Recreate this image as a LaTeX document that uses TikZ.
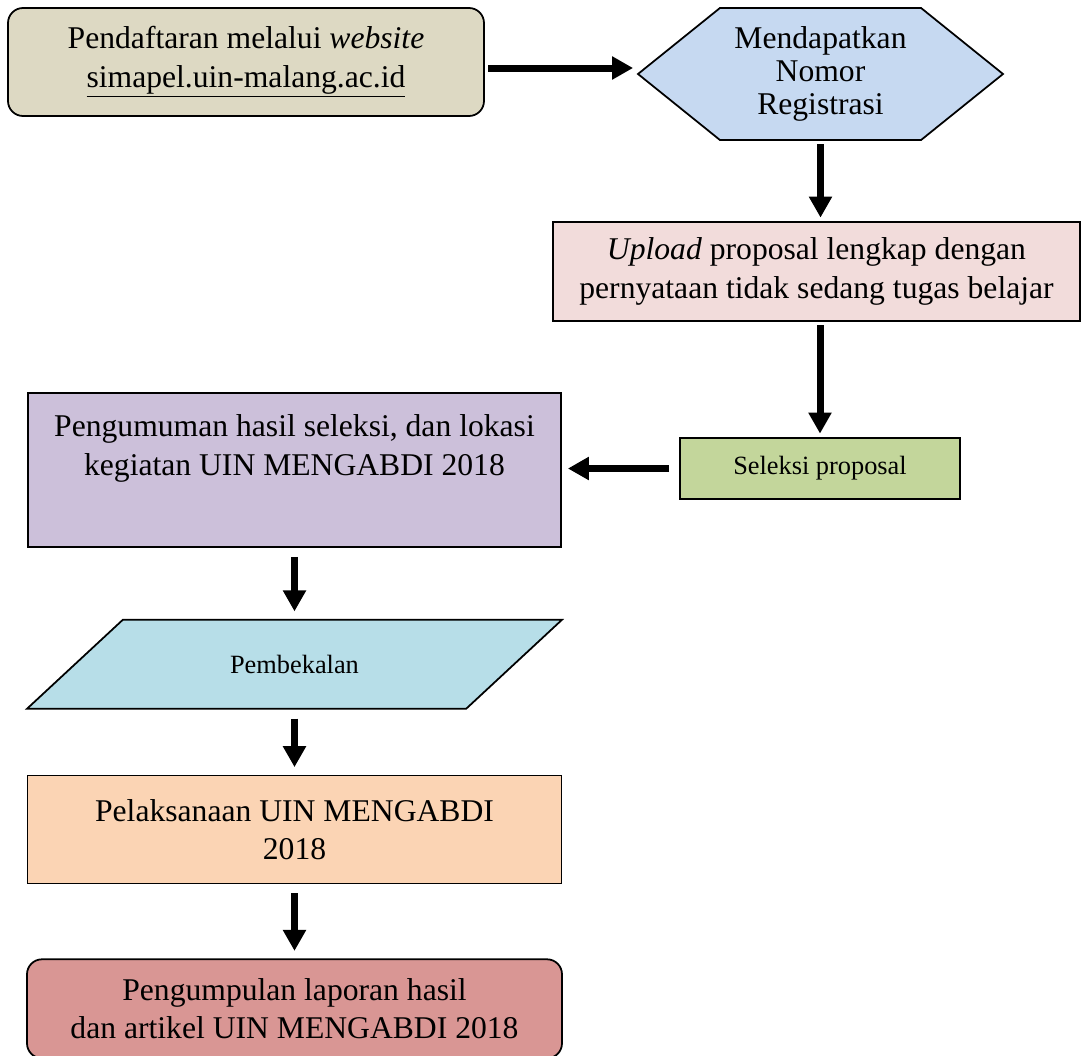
\documentclass[tikz,border=0pt]{standalone}
\usepackage{fontspec}
\setmainfont{Liberation Serif}
\usetikzlibrary{arrows.meta,positioning,shapes.geometric,shapes.symbols}

\definecolor{regcol}{HTML}{DDD9C3}
\definecolor{nomorcol}{HTML}{C6D9F1}
\definecolor{uploadcol}{HTML}{F2DCDB}
\definecolor{seleksicol}{HTML}{C3D69B}
\definecolor{umumcol}{HTML}{CCC0DA}
\definecolor{bekalcol}{HTML}{B7DEE8}
\definecolor{laksanacol}{HTML}{FBD4B4}
\definecolor{kumpulcol}{HTML}{D99694}

\begin{document}
\begin{tikzpicture}[>={Triangle[length=0.42cm,width=0.44cm]},
                    line width=1pt,node distance=1.4cm]
  \tikzstyle{box}=[draw, align=center, inner sep=2pt,
                   font=\fontsize{18}{22}\selectfont]
  \tikzstyle{small}=[font=\fontsize{15}{18}\selectfont]
  \tikzstyle{flow}=[->, line width=0.14cm, shorten <=2pt, shorten >=2pt]

  \useasboundingbox (0,0) rectangle (21.62,-21.1);

  \node[box, rounded corners=0.3cm, fill=regcol,
        minimum width=9.52cm, minimum height=2.16cm] (reg) at (4.92,-1.24)
        {Pendaftaran melalui \emph{website}\\ \underline{simapel.uin-malang.ac.id}};
  \node[box, signal, signal to=west and east, signal pointer angle=77.7,
        fill=nomorcol, font=\fontsize{18}{19}\selectfont,
        minimum width=7.3cm, minimum height=2.64cm] (nomor) at (16.41,-1.48)
        {Mendapatkan\\ Nomor\\ Registrasi};
  \node[box, fill=uploadcol, minimum width=10.54cm, minimum height=1.98cm]
        (upload) at (16.33,-5.43)
        {\emph{Upload} proposal lengkap dengan\\ pernyataan tidak sedang tugas belajar};
  \node[box, small, fill=seleksicol, minimum width=5.6cm, minimum height=1.22cm]
        (seleksi) at (16.4,-9.37) {Seleksi proposal};
  \node[box, fill=umumcol, minimum width=10.66cm, minimum height=3.08cm]
        (umum) at (5.89,-9.4)
        {Pengumuman hasil seleksi, dan lokasi\\ kegiatan UIN MENGABDI 2018\\[6.5pt]\mbox{}};
  \node[box, small, trapezium, trapezium left angle=34, trapezium right angle=146,
        trapezium stretches=true, fill=bekalcol,
        minimum width=10.7cm, minimum height=1.78cm]
        (bekal) [below=1.42cm of umum] {Pembekalan};
  \node[box, fill=laksanacol, minimum width=10.68cm, minimum height=2.16cm]
        (laksana) [below=1.3cm of bekal] {Pelaksanaan UIN MENGABDI\\ 2018};
  \node[box, rounded corners=0.3cm, fill=kumpulcol,
        minimum width=10.7cm, minimum height=1.98cm]
        (kumpul) [below=1.48cm of laksana]
        {Pengumpulan laporan hasil\\ dan artikel UIN MENGABDI 2018};

  \path[flow] ([yshift=-0.12cm]reg.east) edge ([yshift=0.12cm]nomor.west)
        (nomor.south) edge (nomor.south |- upload.north)
        (seleksi.north |- upload.south) edge (seleksi.north)
        (seleksi.west) edge [shorten <=0.2cm, shorten >=0.12cm] (seleksi.west -| umum.east)
        (umum.south) edge [shorten <=0.18cm, shorten >=0.15cm] (bekal.north)
        (bekal.south) edge [shorten <=0.18cm, shorten >=0.15cm] (laksana.north)
        (laksana.south) edge [shorten <=0.18cm, shorten >=0.15cm] (kumpul.north);
\end{tikzpicture}
\end{document}
